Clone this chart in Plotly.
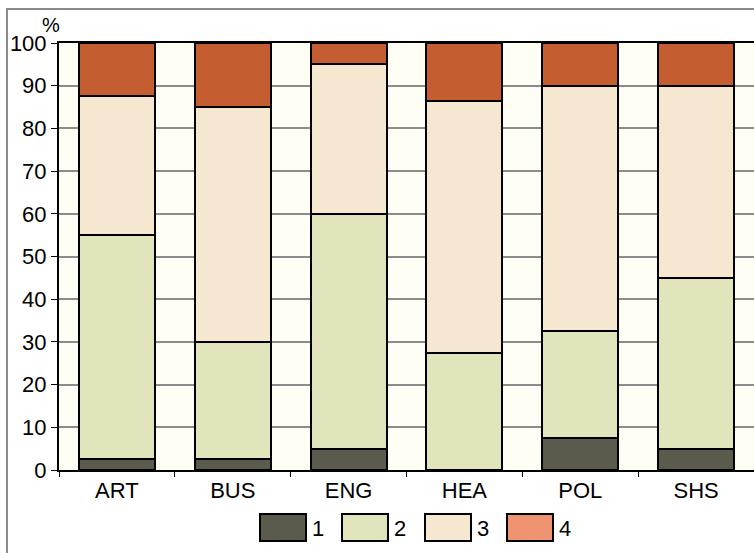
"""Stacked percentage bars by faculty, four response levels."""

import plotly.graph_objects as go

CATEGORIES = ["ART", "BUS", "ENG", "HEA", "POL", "SHS"]
SERIES_NAMES = ["1", "2", "3", "4"]
LEVEL_1 = [2.5, 2.5, 5.0, 0.0, 7.5, 5.0]
LEVEL_2 = [52.5, 27.5, 55.0, 27.3, 25.0, 40.0]
LEVEL_3 = [32.5, 55.0, 35.0, 59.1, 57.5, 45.0]
LEVEL_4 = [12.5, 15.0, 5.0, 13.6, 10.0, 10.0]
SERIES = [LEVEL_1, LEVEL_2, LEVEL_3, LEVEL_4]

BAR_COLORS = ["#5b5a4c", "#e2e4bb", "#f6e8d0", "#c45e30"]
LEGEND_COLORS = ["#5b5a4c", "#e2e4bb", "#f6e8d0", "#ee9370"]

W, H = 754, 553
L, T, B = 59, 43, 83
PW, PH = W - L, H - T - B
FONT = "Liberation Sans, Arial, sans-serif"
FS = 22


def px(x):
    return (x - L) / PW


def py(y):
    return (H - B - y) / PH


fig = go.Figure()
for name, vals, color in zip(SERIES_NAMES, SERIES, BAR_COLORS):
    fig.add_trace(
        go.Bar(
            x=CATEGORIES,
            y=vals,
            name=name,
            marker=dict(color=color, line=dict(color="black", width=2)),
            showlegend=False,
        )
    )

shapes = [
    # outer gray frame
    dict(type="rect", xref="paper", yref="paper",
         x0=px(7), x1=px(W + 10), y0=py(H + 10), y1=py(9),
         line=dict(color="#8a8a8a", width=2), fillcolor="rgba(0,0,0,0)", layer="above"),
]
annotations = [
    dict(text="%", xref="paper", yref="paper", x=px(51), y=py(25),
         xanchor="center", yanchor="middle",
         showarrow=False, font=dict(size=20, color="black", family=FONT)),
]

# custom legend with large swatches
swatch_x = [260, 342, 425, 507]
for x0, name, color in zip(swatch_x, SERIES_NAMES, LEGEND_COLORS):
    shapes.append(
        dict(type="rect", xref="paper", yref="paper",
             x0=px(x0), x1=px(x0 + 46), y0=py(541), y1=py(514),
             line=dict(color="black", width=2), fillcolor=color)
    )
    annotations.append(
        dict(text=name, xref="paper", yref="paper", x=px(x0 + 50), y=py(528),
             xanchor="left", yanchor="middle", showarrow=False,
             font=dict(size=FS, color="black", family=FONT))
    )

fig.update_layout(
    width=W,
    height=H,
    margin=dict(l=L, r=0, t=T, b=B),
    barmode="stack",
    bargap=0.345,
    paper_bgcolor="white",
    plot_bgcolor="#fffef4",
    font=dict(family=FONT, size=FS, color="black"),
    shapes=shapes,
    annotations=annotations,
    xaxis=dict(
        showline=True, linecolor="black", linewidth=2, mirror=True,
        ticks="outside", tickson="boundaries", ticklen=5, tickcolor="black",
        showgrid=False, automargin=False,
    ),
    yaxis=dict(
        range=[0, 100], dtick=10, showline=True, linecolor="black", linewidth=2,
        ticks="outside", ticklen=6, tickcolor="black",
        gridcolor="#8c8c8c", gridwidth=1.5, zeroline=False, automargin=False,
    ),
)

fig.write_html(
    "out.html",
    config={"displayModeBar": False},
    post_script="document.body.style.margin='0px';",
)
